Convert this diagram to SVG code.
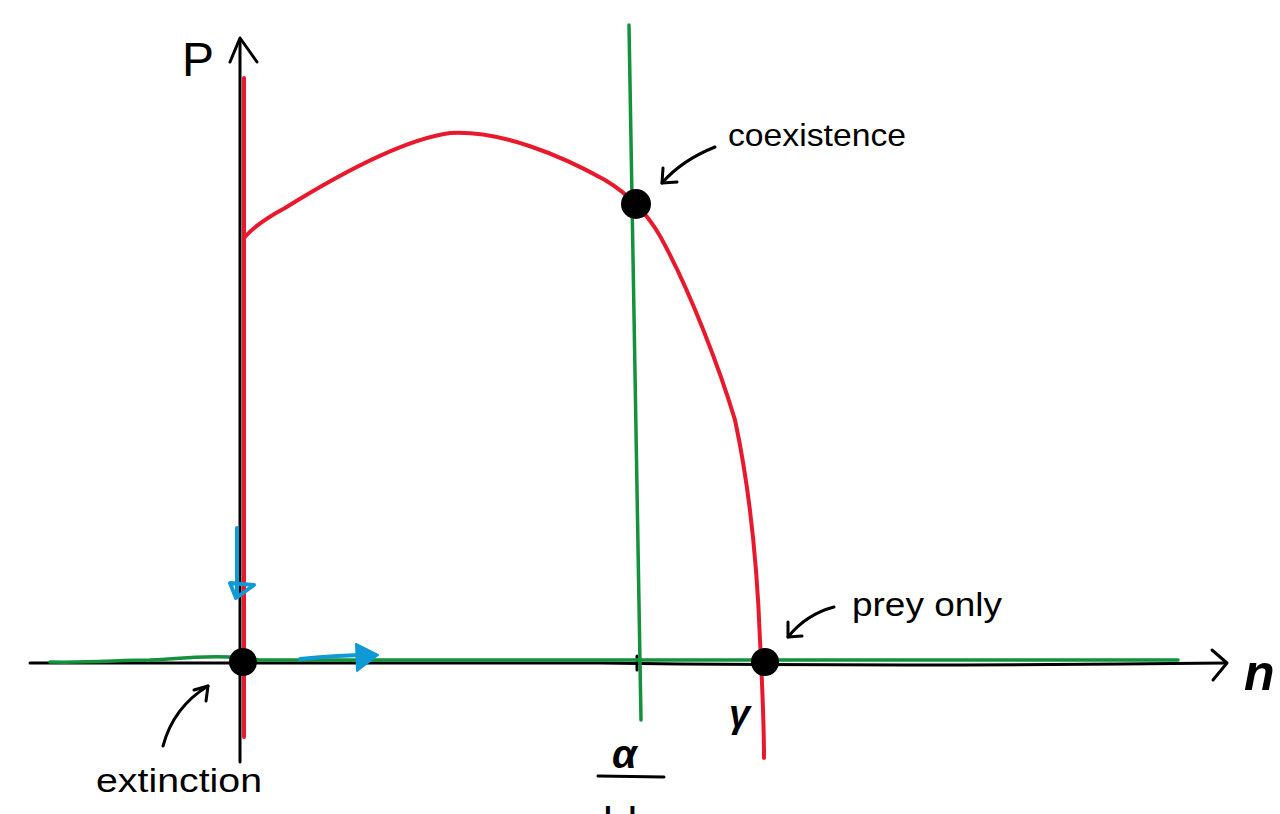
<svg xmlns="http://www.w3.org/2000/svg" width="1280" height="814" viewBox="0 0 1280 814">
<style>
.ax{stroke:#000;stroke-width:3;fill:none;stroke-linecap:round;stroke-linejoin:round}
.red{stroke:#e8192c;stroke-width:4;fill:none;stroke-linecap:round;stroke-linejoin:round}
.grn{stroke:#13913d;stroke-width:3.5;fill:none;stroke-linecap:round}
.blu{stroke:#0f9ad6;stroke-width:4;fill:none;stroke-linecap:round;stroke-linejoin:round}
.lbl{font-family:"Liberation Sans","DejaVu Sans",sans-serif;fill:#000}
.dot{fill:#000}
</style>
<rect width="1280" height="814" fill="#fff"/>
<g id="axes">
<path class="ax" d="M240,40 L240,762"/>
<path class="ax" d="M230,62 L240,38 L257,62"/>
<path class="ax" d="M30,663 L600,663 Q900,667 1225,663"/>
<path class="ax" d="M1212,650 L1227,663 L1213,680"/>
<path class="ax" d="M637,656 L637,670"/>
<text class="lbl" x="182" y="76" font-size="48">P</text>
<text class="lbl" x="1244" y="690" font-size="50" font-style="italic" font-weight="bold">n</text>
</g>
<g id="nullclines">
<path class="red" d="M244,78 L244,737"/>
<path class="red" d="M244,238 C255,225 270,216 285,208 C330,180 400,140 450,133 C500,130 560,155 605,180 C625,192 645,210 660,236 C690,290 720,370 735,420 C750,490 757,560 760,640 C763,700 764,735 764,758"/>
<path class="grn" d="M629,25 L641,720"/>
<path class="grn" d="M50,662 C90,663 120,660 150,660 C180,659 185,656 230,657 L260,660 L1178,660"/>
</g>
<g id="flow-arrows">
<path class="blu" d="M237,528 L237,597"/>
<path class="blu" d="M230,583 L254,585 L236,598 Z"/>
<path class="blu" d="M300,659 C320,657 340,655 370,655"/>
<path d="M356,644 L378,655 L357,671 Z" fill="#0f9ad6" stroke="#0f9ad6" stroke-width="2" stroke-linejoin="round"/>
</g>
<g id="extinction">
<circle class="dot" cx="243" cy="662" r="14"/>
<path class="ax" d="M163,746 C170,720 185,700 208,686"/>
<path class="ax" d="M194,690 L208,686 L206,701"/>
<text class="lbl" x="96" y="792" font-size="34" textLength="166" lengthAdjust="spacingAndGlyphs">extinction</text>
</g>
<g id="coexistence">
<circle class="dot" cx="636" cy="204" r="15"/>
<path class="ax" d="M715,147 C695,155 675,168 662,183"/>
<path class="ax" d="M663,168 L662,183 L677,182"/>
<text class="lbl" x="728" y="146" font-size="32" textLength="178" lengthAdjust="spacingAndGlyphs">coexistence</text>
</g>
<g id="prey-only">
<circle class="dot" cx="765" cy="662" r="14"/>
<path class="ax" d="M834,607 C815,612 800,622 788,637"/>
<path class="ax" d="M788,622 L788,637 L802,636"/>
<text class="lbl" x="852" y="616" font-size="34" textLength="150" lengthAdjust="spacingAndGlyphs">prey only</text>
</g>
<g id="labels">
<text class="lbl" x="729" y="727" font-size="38" font-style="italic" font-weight="bold">γ</text>
<text class="lbl" x="612" y="768" font-size="40" font-style="italic" font-weight="bold">α</text>
<path class="ax" d="M598,776 L664,777" stroke-width="4"/>
<text class="lbl" x="603" y="838" font-size="44">bk</text>
</g>
</svg>
